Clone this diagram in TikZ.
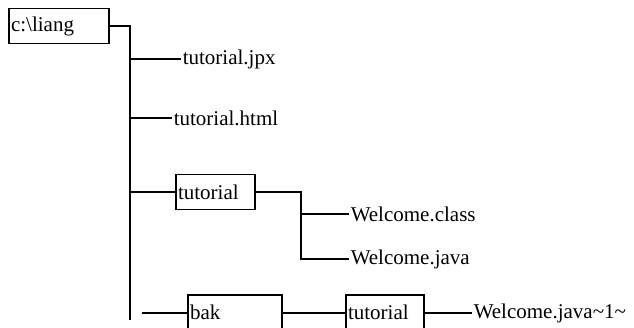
\documentclass[tikz,border=0pt]{standalone}
\usepackage{fontspec}
\setmainfont{Liberation Serif}

\begin{document}
\begin{tikzpicture}[x=1pt, y=-1pt, line width=1.5pt,
every node/.style={font=\fontsize{21}{24}\selectfont},
dirbox/.style={draw, rectangle, minimum height=35pt, inner sep=2pt, align=left},
leaf/.style={anchor=west, inner sep=1pt}]
\useasboundingbox (0,0) rectangle (634,328);
% folders
\node(root)[dirbox, text width=96pt] at (59,26) {c:\textbackslash liang};
\node(tut)[dirbox, text width=75pt] at (215.5,192) {tutorial};
\node(bak)[dirbox, text width=90pt] at (235,312.5) {bak};
\node(baktut)[dirbox, text width=74pt] at (385,312.5) {tutorial};
% files
\node(jpx)[leaf] at (181,59) {tutorial.jpx};
\node(html)[leaf] at (172,118) {tutorial.html};
\node(class)[leaf] at (349,214) {Welcome.class};
\node(java)[leaf] at (349,259) {Welcome.java};
\node(javaone)[leaf] at (472,313) {Welcome.java\textasciitilde 1\textasciitilde};
\coordinate(trunk) at (130,320);
\coordinate(fork) at (301,0);
\coordinate(stub) at (142,313);
% connectors
\draw (root.east) -| (trunk);
\draw (trunk |- jpx.west) -- (jpx.west);
\draw (trunk |- html.west) -- (html.west);
\draw (trunk |- tut.west) -- (tut.west);
\draw (tut.east) -| (fork |- java.west) -- (java.west);
\draw (fork |- class.west) -- (class.west);
\draw (stub) -- (bak.west |- stub);
\draw (bak.east |- stub) -- (baktut.west |- stub);
\draw (baktut.east |- stub) -- (javaone.west);
\end{tikzpicture}
\end{document}
